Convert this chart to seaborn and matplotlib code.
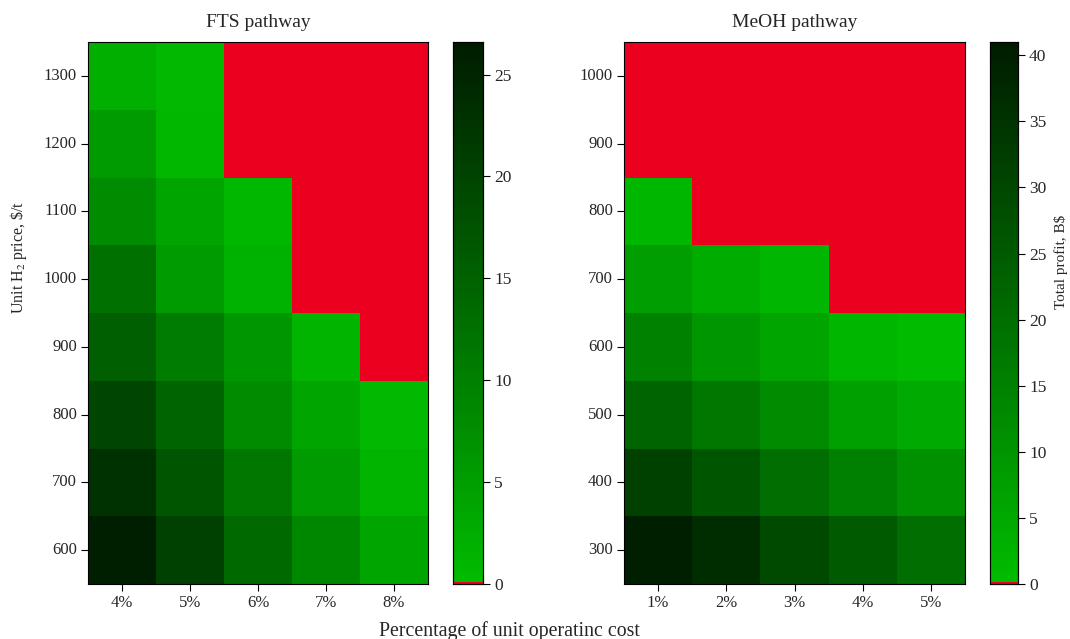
import numpy as np
import pandas as pd
import matplotlib
matplotlib.use("Agg")
import matplotlib.pyplot as plt
from matplotlib.colors import ListedColormap
import seaborn as sns

sns.set_style("white")
plt.rcParams['font.family'] = ['Liberation Serif', 'DejaVu Serif']
plt.rcParams['mathtext.fontset'] = 'stix'

# ---- data ----
fts_cost = ["4%", "5%", "6%", "7%", "8%"]
fts_price = [1300, 1200, 1100, 1000, 900, 800, 700, 600]
fts_profit = [
    [2.2, 0.5, 0.0, 0.0, 0.0],
    [5.5, 0.8, 0.0, 0.0, 0.0],
    [8.0, 3.8, 0.8, 0.0, 0.0],
    [12.6, 5.5, 1.7, 0.0, 0.0],
    [15.5, 10.5, 6.3, 1.3, 0.0],
    [19.6, 14.6, 8.0, 3.8, 0.5],
    [23.0, 17.0, 11.3, 5.5, 1.3],
    [26.0, 20.5, 13.8, 8.8, 3.8],
]

meoh_cost = ["1%", "2%", "3%", "4%", "5%"]
meoh_price = [1000, 900, 800, 700, 600, 500, 400, 300]
meoh_profit = [
    [0.0, 0.0, 0.0, 0.0, 0.0],
    [0.0, 0.0, 0.0, 0.0, 0.0],
    [1.3, 0.0, 0.0, 0.0, 0.0],
    [7.7, 4.1, 1.5, 0.0, 0.0],
    [14.9, 9.7, 5.9, 1.3, 0.3],
    [22.5, 17.4, 12.3, 7.2, 4.6],
    [31.5, 26.4, 20.0, 15.4, 11.0],
    [40.5, 36.6, 29.0, 25.0, 20.0],
]

# colormap: first level red, then bright-to-dark green
n = 256
greens = np.zeros((n, 4))
greens[:, 3] = 1.0
greens[:, 1] = np.linspace(188, 28, n) / 255.0
greens[0] = [236 / 255, 0, 32 / 255, 1]
cmap = ListedColormap(greens)

fig = plt.figure(figsize=(10.70, 6.39), dpi=100)
W, H = 1070, 639

def ax_px(x0, x1, y0, y1):
    return fig.add_axes([x0 / W, 1 - y1 / H, (x1 - x0) / W, (y1 - y0) / H])

ax1 = ax_px(88, 428, 42, 584)
cax1 = ax_px(453, 483, 42, 584)
ax2 = ax_px(624, 965, 42, 584)
cax2 = ax_px(990, 1018, 42, 584)

df1 = pd.DataFrame(fts_profit, index=fts_price, columns=fts_cost)
df2 = pd.DataFrame(meoh_profit, index=meoh_price, columns=meoh_cost)

sns.heatmap(df1, ax=ax1, cbar_ax=cax1, cmap=cmap, vmin=0, vmax=26.6,
            square=False)
sns.heatmap(df2, ax=ax2, cbar_ax=cax2, cmap=cmap, vmin=0, vmax=41.0,
            square=False)

for ax, title in [(ax1, "FTS pathway"), (ax2, "MeOH pathway")]:
    ax.set_title(title, fontsize=14, pad=11)
    ax.set_xlabel("")
    ax.set_ylabel("")
    ax.tick_params(axis='both', which='both', length=5, width=0.8,
                   labelsize=12, bottom=True, left=True, color='black', pad=3)
    ax.set_yticklabels(ax.get_yticklabels(), rotation=0)
    ax.set_xticklabels(ax.get_xticklabels(), rotation=0)
    for s in ax.spines.values():
        s.set_visible(True)
        s.set_color('black')
        s.set_linewidth(0.8)

for cax, ticks in [(cax1, [0, 5, 10, 15, 20, 25]), (cax2, [0, 5, 10, 15, 20, 25, 30, 35, 40])]:
    cax.set_yticks(ticks)
    cax.tick_params(axis='y', length=5, width=0.8, labelsize=12.5, right=True,
                    color='black', pad=3)
    for s in cax.spines.values():
        s.set_visible(True)
        s.set_color('black')
        s.set_linewidth(0.8)

cax2.set_ylabel("Total profit, B$", fontsize=11)
cax2.yaxis.set_label_coords(2.3, 0.594)
ax1.set_ylabel(r"Unit H$_2$ price, \$/t", fontsize=11.5)
ax1.yaxis.set_label_coords(-0.175, 0.603)
fig.text(509 / W, 1 - 636 / H, "Percentage of unit operatinc cost",
         ha='center', va='baseline', fontsize=14.3)

fig.savefig("out.png", dpi=100)
